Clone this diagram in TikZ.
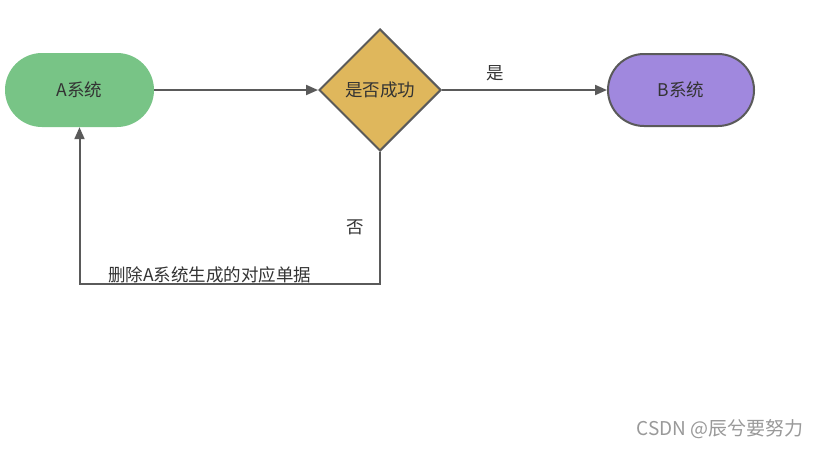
\documentclass[tikz,border=0pt]{standalone}
\usepackage{fontspec}
\setmainfont{Noto Sans CJK SC}
\usetikzlibrary{shapes.geometric,shapes.misc,arrows.meta}
\definecolor{lineg}{HTML}{5A5A5A}
\definecolor{gfill}{HTML}{78C486}
\definecolor{yfill}{HTML}{DFB75C}
\definecolor{pfill}{HTML}{A088DE}
\definecolor{txt}{HTML}{333333}
\tikzset{
  mainfont/.style={font=\fontsize{17.5}{20}\selectfont},
  term/.style={rounded rectangle, minimum width=149pt, minimum height=74pt, inner sep=0pt, mainfont, text=txt},
  dec/.style={diamond, draw=lineg, line width=2pt, fill=yfill, minimum width=122pt, minimum height=122pt, inner sep=0pt, mainfont, text=txt},
  conn/.style={draw=lineg, line width=2pt, -{Triangle[length=12pt,width=10pt]}},
  lbl/.style={mainfont, text=txt, inner sep=0pt},
}
\begin{document}
\begin{tikzpicture}[x=1pt,y=-1pt]
\useasboundingbox[fill=white] (0,0) rectangle (818,448);
\node[term, fill=gfill] (A) at (79.5,90) {A系统};
\node[dec] (D) at (380,90) {是否成功};
\node[term, fill=pfill, draw=lineg, line width=2pt, minimum width=146pt, minimum height=72pt] (B) at (681,90) {B系统};
\coordinate (c1) at (380,284);
\coordinate (c2) at (79.5,284);
\draw[conn] (A.east) -- (D.west);
\draw[conn] (D.east) -- (B.west);
\draw[conn] (D.south) -- (c1) -- (c2) -- (A.south);
\node[lbl] (yes) at (495,73) {是};
\node[lbl] (no) at (355,227) {否};
\node[lbl, anchor=west] (del) at (108,275) {删除A系统生成的对应单据};
\node[lbl, text=black!40, font=\fontsize{19}{22}\selectfont] (wm) at (720,429) {CSDN @辰兮要努力};
\end{tikzpicture}
\end{document}
